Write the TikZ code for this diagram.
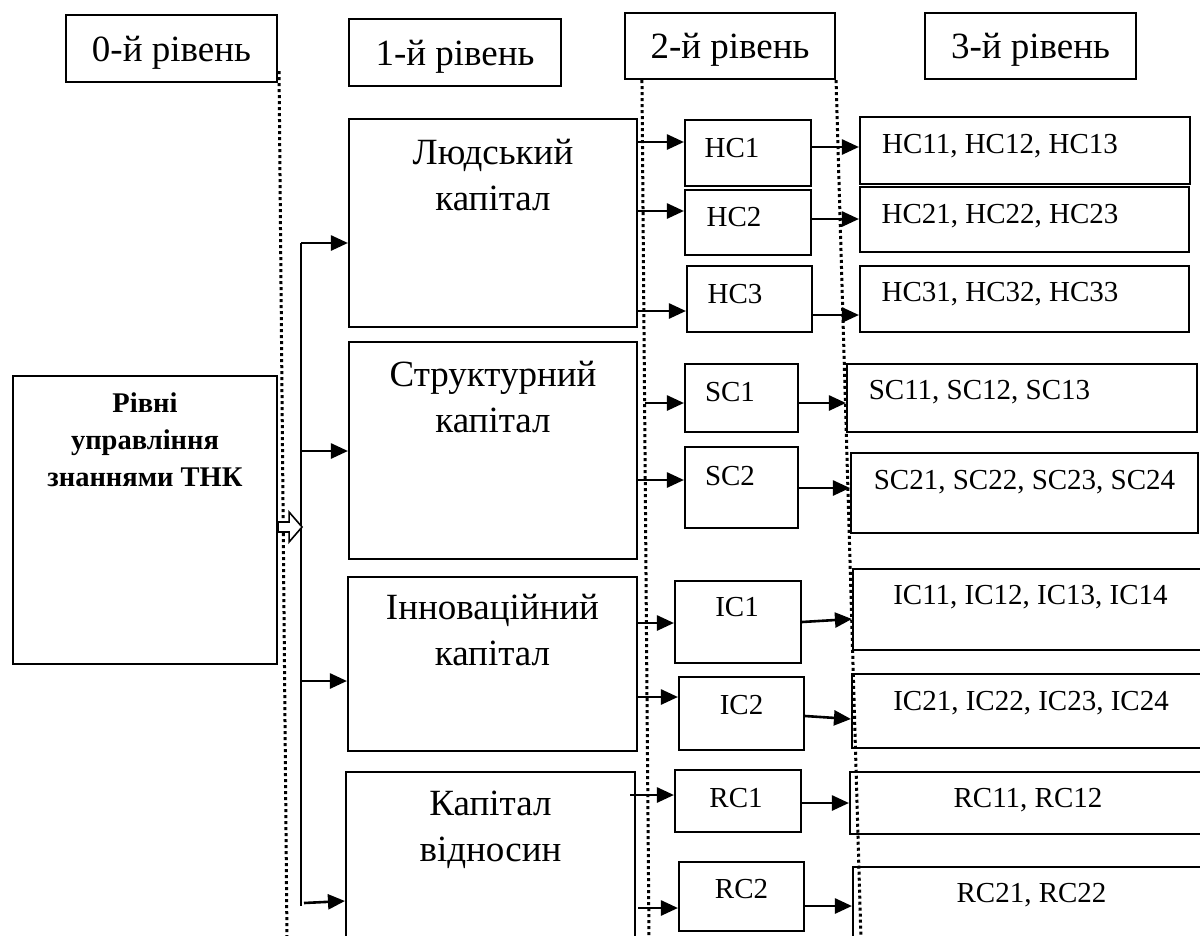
\documentclass[tikz,border=0pt]{standalone}
\usepackage{fontspec}
\setmainfont{Liberation Serif}
\usetikzlibrary{arrows.meta,positioning}

\begin{document}
\begin{tikzpicture}[x=1pt,y=-1pt,
    box/.style={draw, line width=2.1pt, inner sep=0pt},
    head/.style={box, minimum width=211pt, minimum height=67pt, text depth=0pt, font=\fontsize{37}{44}\selectfont},
    captxt/.style={inner sep=0pt, align=center, font=\fontsize{37}{46}\selectfont},
    txt/.style={inner sep=0pt, font=\fontsize{29}{34}\selectfont},
    arr/.style={line width=2.6pt, -{Triangle[length=17pt,width=15pt]}},
    sepline/.style={line width=3pt, dash pattern=on 3pt off 3pt}]

  \useasboundingbox (0,0) rectangle (1200,935);

  % levels
  \node[head] (lvl0) at (171.5,48.5) {0-й рівень};
  \node[head, minimum width=212pt] (lvl1) at (455,52.5) {1-й рівень};
  \node[head, minimum width=210pt, minimum height=66pt] (lvl2) at (730,46) {2-й рівень};
  \node[head, minimum height=66pt] (lvl3) at (1030.5,46) {3-й рівень};

  \coordinate (d0) at (287,940);
  \coordinate (d1) at (649,940);
  \coordinate (d2) at (861,940);
  \draw[sepline] ([xshift=1pt,yshift=12pt]lvl0.south east) -- (d0);
  \draw[sepline] ([xshift=18pt]lvl2.south west) -- (d1);
  \draw[sepline] (lvl2.south east) -- (d2);

  % 0
  \node[box, minimum width=264pt, minimum height=288pt] (rivni) at (145,520) {};
  \node[captxt, font=\fontsize{28.5}{37}\selectfont\bfseries, below=18pt of rivni.north] (rivnitxt) {Рівні\\управління\\знаннями ТНК};

  % 1
  \node[box, minimum width=288pt, minimum height=208pt] (hc) at (493,223) {};
  \node[box, minimum width=288pt, minimum height=217pt] (sc) at (493,450.5) {};
  \node[box, minimum width=289pt, minimum height=174pt] (ic) at (492.5,664) {};
  \node[box, minimum width=289pt, minimum height=173pt] (rc) at (490.5,858.5) {};
  \node[captxt, below=21pt of hc.north] (hctxt) {Людський\\капітал};
  \node[captxt, below=20pt of sc.north] (sctxt) {Структурний\\капітал};
  \node[captxt, below=18pt of ic.north] (ictxt) {Інноваційний\\капітал};
  \node[captxt, below=20pt of rc.north] (rctxt) {Капітал\\відносин};

  % 2
  \node[box, minimum width=126pt, minimum height=66pt, label={[txt,xshift=-16pt,yshift=5pt]center:HC1}] (hc1) at (748,153) {};
  \node[box, minimum width=126pt, minimum height=65pt, label={[txt,xshift=-14pt,yshift=5.5pt]center:HC2}] (hc2) at (748,222.5) {};
  \node[box, minimum width=125pt, minimum height=66pt, label={[txt,xshift=-14.5pt,yshift=5pt]center:HC3}] (hc3) at (749.5,299) {};
  \node[box, minimum width=113pt, minimum height=68pt, label={[txt,xshift=-11.5pt,yshift=6pt]center:SC1}] (sc1) at (741.5,398) {};
  \node[box, minimum width=113pt, minimum height=81pt, label={[txt,xshift=-11.5pt,yshift=11.5pt]center:SC2}] (sc2) at (741.5,487.5) {};
  \node[box, minimum width=126pt, minimum height=82pt, label={[txt,xshift=-1pt,yshift=15pt]center:IC1}] (ic1) at (738,622) {};
  \node[box, minimum width=125pt, minimum height=73pt, label={[txt,yshift=8.5pt]center:IC2}] (ic2) at (741.5,713.5) {};
  \node[box, minimum width=126pt, minimum height=62pt, label={[txt,xshift=-2pt,yshift=3pt]center:RC1}] (rc1) at (738,801) {};
  \node[box, minimum width=125pt, minimum height=69pt, label={[txt,yshift=7pt]center:RC2}] (rc2) at (741.5,896.5) {};

  % 3
  \node[box, minimum width=330pt, minimum height=67pt, label={[txt,xshift=-25pt,yshift=4.5pt]center:{HC11, HC12, HC13}}] (hc11) at (1025,150.5) {};
  \node[box, minimum width=329pt, minimum height=65pt, label={[txt,xshift=-24.5pt,yshift=3.5pt]center:{HC21, HC22, HC23}}] (hc21) at (1024.5,219.5) {};
  \node[box, minimum width=329pt, minimum height=66pt, label={[txt,xshift=-24.5pt,yshift=5pt]center:{HC31, HC32, HC33}}] (hc31) at (1024.5,299) {};
  \node[box, minimum width=350pt, minimum height=68pt, label={[txt,xshift=-42.5pt,yshift=6pt]center:{SC11, SC12, SC13}}] (sc11) at (1022,398) {};
  \node[box, minimum width=347pt, minimum height=80pt, label={[txt,yshift=11pt]center:{SC21, SC22, SC23, SC24}}] (sc21) at (1024.5,493) {};
  \node[box, minimum width=357pt, minimum height=81pt, label={[txt,xshift=-1pt,yshift=12.5pt]center:{IC11, IC12, IC13, IC14}}] (ic11) at (1031.5,609.5) {};
  \node[box, minimum width=358pt, minimum height=74pt, label={[txt,yshift=7.5pt]center:{IC21, IC22, IC23, IC24}}] (ic21) at (1031,711) {};
  \node[box, minimum width=360pt, minimum height=62pt, label={[txt,xshift=-2pt,yshift=2.5pt]center:{RC11, RC12}}] (rc11) at (1030,803) {};
  \node[box, minimum width=357pt, minimum height=78pt, label={[txt,yshift=10.5pt]center:{RC21, RC22}}] (rc21) at (1031.5,906) {};

  % bus
  \coordinate (b1) at (301,243);
  \coordinate (b2) at (301,451);
  \coordinate (b3) at (301,681);
  \coordinate (b4) at (304,903);
  \coordinate (bend) at (301,906);
  \draw[line width=2.4pt] (b1) -- (bend);
  \draw[arr] (b1) -- ([yshift=-20pt]hc.west);
  \draw[arr] (b2) -- ([yshift=-0.5pt]sc.west);
  \draw[arr] (b3) -- ([yshift=-17pt]ic.west);
  \draw[arr] (b4) -- ([yshift=-42.5pt]rc.west);

  \coordinate (ha) at ([yshift=-7pt]rivni.east);
  \draw[line width=1.6pt, fill=white] (ha) ++(0,-5) -- ++(11,0) -- ++(0,-10) -- ++(13,15)
    -- ++(-13,15) -- ++(0,-10) -- ++(-11,0) -- cycle;

  % 1 -> 2
  \draw[arr] ([yshift=81pt]hc.east) -- ([yshift=11pt]hc1.west);
  \draw[arr] ([yshift=12pt]hc.east) -- ([yshift=11.5pt]hc2.west);
  \draw[arr] ([yshift=-88pt]hc.east) -- ([yshift=-12pt]hc3.west);
  \draw[arr] ([xshift=7pt,yshift=47.5pt]sc.east) -- ([yshift=-5pt]sc1.west);
  \draw[arr] ([yshift=-29.5pt]sc.east) -- ([yshift=7.5pt]sc2.west);
  \draw[arr] ([yshift=41pt]ic.east) -- ([yshift=-1pt]ic1.west);
  \draw[arr] ([xshift=-2pt,yshift=-33pt]ic.east) -- ([yshift=16.5pt]ic2.west);
  \draw[arr] ([xshift=-6pt,yshift=63.5pt]rc.east) -- ([yshift=6pt]rc1.west);
  \draw[arr] ([xshift=2pt,yshift=-49.5pt]rc.east) -- ([yshift=-11.5pt]rc2.west);

  % 2 -> 3
  \draw[arr] ([yshift=6pt]hc1.east) -- ([yshift=3.5pt]hc11.west);
  \draw[arr] ([yshift=3.5pt]hc2.east) -- ([yshift=0.5pt]hc21.west);
  \draw[arr] ([yshift=-16pt]hc3.east) -- ([yshift=-16pt]hc31.west);
  \draw[arr] ([yshift=-5pt]sc1.east) -- ([yshift=-5pt]sc11.west);
  \draw[arr] ([yshift=-0.5pt]sc2.east) -- ([yshift=5pt]sc21.west);
  \draw[arr] (ic1.east) -- ([yshift=-9.5pt]ic11.west);
  \draw[arr] ([yshift=-2.5pt]ic2.east) -- ([yshift=-8pt]ic21.west);
  \draw[arr] ([yshift=-2pt]rc1.east) -- (rc11.west);
  \draw[arr] ([yshift=-9.5pt]rc2.east) -- (rc21.west);

\end{tikzpicture}
\end{document}
